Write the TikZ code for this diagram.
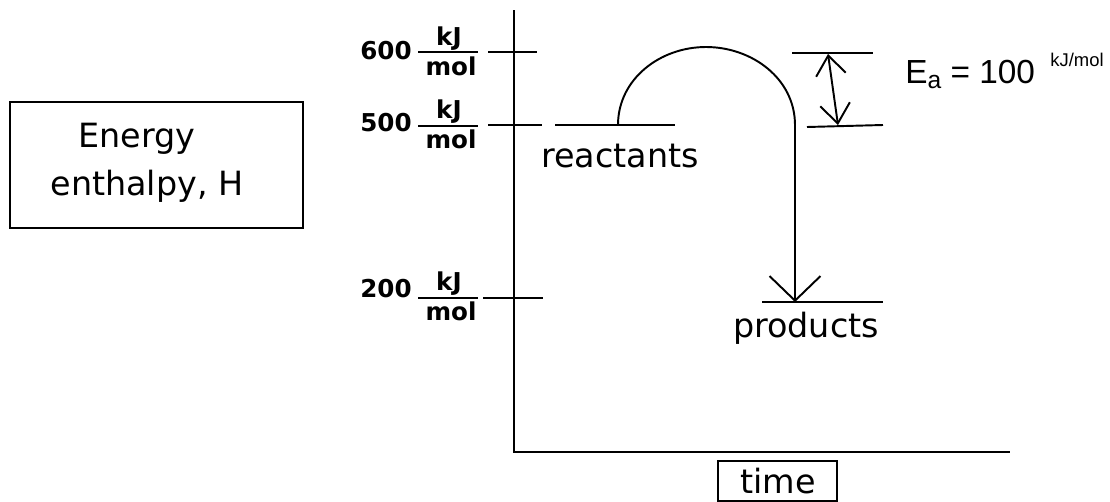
\documentclass[tikz,border=0pt]{standalone}
\usepackage{fontspec}
\setmainfont{DejaVu Sans}
\newfontfamily\labfont{DejaVu Sans}
\newfontfamily\handfont{Liberation Sans}
\usetikzlibrary{arrows.meta}
\begin{document}
\begin{tikzpicture}[x=0.02cm,y=-0.02cm,
  ln/.style={line width=1.1pt},
  axis/.style={line width=1.2pt},
  big/.style={font=\fontsize{19}{22}\selectfont, inner sep=0pt},
  lab/.style={font=\labfont\bfseries\fontsize{14}{16}\selectfont, inner sep=0pt},
  hand/.style={font=\handfont\fontsize{19}{22}\selectfont, inner sep=0pt},
  bigtip/.style={-{Straight Barb[length=14pt,width=29pt]}},
  eatip/.style={{Straight Barb[length=11pt,width=17pt]}-{Straight Barb[length=11pt,width=17pt]}}]
\useasboundingbox (0,0) rectangle (1110,501);
% axes
\coordinate (ytop) at (514,10);
\coordinate (orig) at (514,452);
\coordinate (xend) at (1010,452);
\draw[axis] (ytop) -- (orig) -- (xend);
% ticks
\coordinate (t6a) at (488,52); \coordinate (t6b) at (537,52);
\coordinate (t5a) at (488,125); \coordinate (t5b) at (542,125);
\coordinate (t2a) at (483,298); \coordinate (t2b) at (543,298);
\draw[ln] (t6a) -- (t6b);
\draw[ln] (t5a) -- (t5b);
\draw[ln] (t2a) -- (t2b);
% labels 600
\node[lab, anchor=base east] (n6) at (412,59) {600};
\coordinate (f6a) at (418,52); \coordinate (f6b) at (478,52);
\draw[ln] (f6a) -- (f6b);
\node[lab, anchor=base] (k6) at (449,45) {kJ};
\node[lab, anchor=base] (m6) at (451,75) {mol};
% 500
\node[lab, anchor=base east] (n5) at (412,131) {500};
\coordinate (f5a) at (418,126); \coordinate (f5b) at (478,126);
\draw[ln] (f5a) -- (f5b);
\node[lab, anchor=base] (k5) at (449,118) {kJ};
\node[lab, anchor=base] (m5) at (451,148) {mol};
% 200
\node[lab, anchor=base east] (n2) at (412,297) {200};
\coordinate (f2a) at (418,298); \coordinate (f2b) at (478,298);
\draw[ln] (f2a) -- (f2b);
\node[lab, anchor=base] (k2) at (449,290) {kJ};
\node[lab, anchor=base] (m2) at (451,320) {mol};
% energy box
\node[draw, line width=1pt, minimum width=293*0.02cm, minimum height=126*0.02cm, inner sep=0pt] (hbox) at (156.5,165) {};
\node[big, anchor=base] (en1) at (137,147) {Energy};
\node[big, anchor=base] (en2) at (147,195) {enthalpy, H};
% reactants
\coordinate (ra) at (555,125); \coordinate (rb) at (675,125);
\draw[ln] (ra) -- (rb);
\node[big, anchor=base] (rt) at (620,167) {reactants};
% products
\coordinate (pa) at (762,302); \coordinate (pb) at (883,302);
\draw[ln] (pa) -- (pb);
\node[big, anchor=base] (pt) at (806,337) {products};
% hump
\coordinate (hs) at (618,125);
\coordinate (htop) at (706,47);
\coordinate (he) at (795,125);
\coordinate (tip) at (795,302);
\draw[ln, bigtip] (hs) to[out=90,in=180] (htop) to[out=0,in=90] (he) -- (tip);
% Ea bracket
\coordinate (ea1) at (792,53); \coordinate (ea2) at (873,53);
\coordinate (eb1) at (807,127); \coordinate (eb2) at (883,125);
\draw[ln] (ea1) -- (ea2);
\draw[ln] (eb1) -- (eb2);
\coordinate (eat) at (828,54); \coordinate (eab) at (838,125);
\draw[ln, eatip] (eat) -- (eab);
\node[hand, anchor=base west] (eaT) at (905,83) {E\raisebox{-0.3ex}{\fontsize{14}{16}\selectfont a} = 100};
\node[hand, anchor=base west, font=\handfont\fontsize{10.5}{12}\selectfont] (eaU) at (1050,66) {kJ/mol};
% time
\node[draw, line width=1pt, minimum width=119*0.02cm, minimum height=40*0.02cm, inner sep=0pt] (tbox) at (777.5,481) {};
\node[big, anchor=base] (tt) at (778,493) {time};
\end{tikzpicture}
\end{document}
